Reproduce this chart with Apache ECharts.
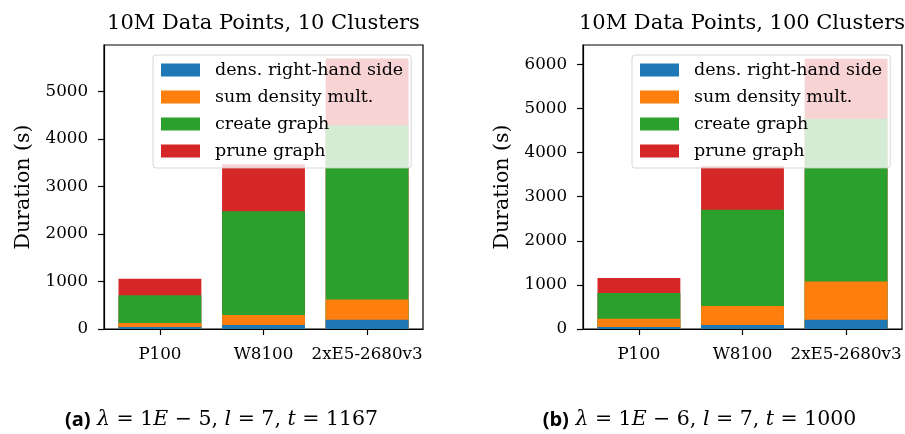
<!DOCTYPE html>
<html><head><meta charset="utf-8">
<script src="https://cdn.jsdelivr.net/npm/echarts@6/dist/echarts.min.js"></script>
<style>html,body{margin:0;padding:0;background:#fff}#c{width:905px;height:434px}</style>
</head><body><div id="c"></div>
<script>
const categories = ['P100', 'W8100', '2xE5-2680v3'];
const seriesNames = ['dens. right-hand side', 'sum density mult.', 'create graph', 'prune graph'];
const colors = ['#1f77b4', '#ff7f0e', '#2ca02c', '#d62728'];
// panel (a): 10 clusters
const densA = [40, 85, 197];
const sumA = [85, 211, 423];
const createA = [587, 2182, 3675];
const pruneA = [344, 993, 1403];
// panel (b): 100 clusters
const densB = [45, 91, 211];
const sumB = [190, 432, 864];
const createB = [583, 2182, 3691];
const pruneB = [341, 984, 1364];
const yTicksA = [0, 1000, 2000, 3000, 4000, 5000];
const yTicksB = [0, 1000, 2000, 3000, 4000, 5000, 6000];
const titles = ['10M Data Points, 10 Clusters', '10M Data Points, 100 Clusters'];

const SERIF = 'DejaVu Serif';
const panels = [
  {segs: [densA, sumA, createA, pruneA], yTicks: yTicksA, ymax: 5983, left: 104, legendLeft: 153},
  {segs: [densB, sumB, createB, pruneB], yTicks: yTicksB, ymax: 6440, left: 583, legendLeft: 632}
];
const gridW = 319, gridH = 284, gridTop = 45;
const xmin = -0.54, xmax = 2.54;
const barW = gridW * 0.8 / (xmax - xmin);

const grid = [], xAxis = [], yAxis = [], series = [], legend = [];
panels.forEach((p, pi) => {
  grid.push({left: p.left, top: gridTop, width: gridW, height: gridH, show: true,
    borderColor: '#000', borderWidth: 1.2, backgroundColor: 'transparent', containLabel: false});
  xAxis.push({type: 'value', gridIndex: pi, min: xmin, max: xmax, splitLine: {show: false},
    axisLine: {show: true, onZero: false, lineStyle: {color: '#000', width: 1.2}},
    axisTick: {show: true, length: 6, customValues: [0, 1, 2], lineStyle: {color: '#000', width: 1.2}},
    axisLabel: {customValues: [0, 1, 2], formatter: v => categories[Math.round(v)],
      color: '#000', fontFamily: SERIF, fontSize: 16.7, margin: 17}});
  yAxis.push({type: 'value', gridIndex: pi, min: 0, max: p.ymax, splitLine: {show: false},
    name: 'Duration (s)', nameLocation: 'middle', nameGap: 70, nameRotate: 90,
    nameTextStyle: {color: '#000', fontFamily: SERIF, fontSize: 20.5},
    axisLine: {show: true, onZero: false, lineStyle: {color: '#000', width: 1.2}},
    axisTick: {show: true, length: 6, customValues: p.yTicks, lineStyle: {color: '#000', width: 1.2}},
    axisLabel: {customValues: p.yTicks, formatter: v => String(v), color: '#000', fontFamily: SERIF, fontSize: 16.7, margin: 16}});
  // cumulative tops, drawn from the top segment down so lower segments overlay
  const cum = p.segs.map((_, si) => categories.map((c, ci) => {
    let s = 0; for (let k = 0; k <= si; k++) s += p.segs[k][ci]; return s;
  }));
  for (let si = p.segs.length - 1; si >= 0; si--) {
    series.push({type: 'bar', name: seriesNames[si], xAxisIndex: pi, yAxisIndex: pi,
      barWidth: barW, barGap: '-100%', itemStyle: {color: colors[si]},
      data: categories.map((c, ci) => [ci, cum[si][ci]]), emphasis: {disabled: true}});
  }
  legend.push({data: seriesNames, orient: 'vertical', left: p.legendLeft, top: 55,
    itemWidth: 39, itemHeight: 13, itemGap: 9, icon: 'rect',
    backgroundColor: 'rgba(255,255,255,0.8)', borderColor: 'rgba(204,204,204,0.8)', borderWidth: 1,
    borderRadius: 3, padding: [6, 8, 8, 8], selectedMode: false,
    textStyle: {fontFamily: SERIF, fontSize: 17.5, color: '#000', padding: [0, 0, 0, 10]}});
});

const math = {fontFamily: SERIF, fontStyle: 'italic', fontSize: 20.5, color: '#000'};
const graphic = [
  {type: 'text', x: 263.5, y: 24, style: {text: titles[0], fontFamily: SERIF, fontSize: 21, fill: '#000', align: 'center', verticalAlign: 'middle'}},
  {type: 'text', x: 742, y: 24, style: {text: titles[1], fontFamily: SERIF, fontSize: 21, fill: '#000', align: 'center', verticalAlign: 'middle'}},
  {type: 'text', x: 221.5, y: 420, style: {text: '{b|(a)} {m|λ} = 1{m|E} − 5, {m|l} = 7, {m|t} = 1167',
    fontFamily: SERIF, fontSize: 20.5, fill: '#000', align: 'center', verticalAlign: 'middle',
    rich: {b: {fontFamily: 'Open Sans', fontWeight: 'bold', fontSize: 20, color: '#000'}, m: math}}},
  {type: 'text', x: 699.5, y: 420, style: {text: '{b|(b)} {m|λ} = 1{m|E} − 6, {m|l} = 7, {m|t} = 1000',
    fontFamily: SERIF, fontSize: 20.5, fill: '#000', align: 'center', verticalAlign: 'middle',
    rich: {b: {fontFamily: 'Open Sans', fontWeight: 'bold', fontSize: 20, color: '#000'}, m: math}}}
];

const chart = echarts.init(document.getElementById('c'), null, {renderer: 'canvas'});
chart.setOption({animation: false, grid, xAxis, yAxis, series, legend, graphic});
</script></body></html>
